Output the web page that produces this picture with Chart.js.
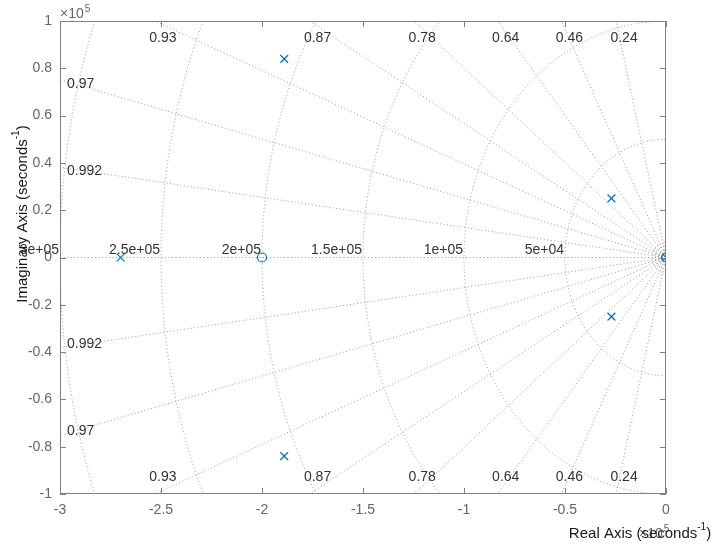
<!DOCTYPE html>
<html lang="en">
<head>
  <meta charset="UTF-8">
  <title>Pole-Zero Map</title>
  <style>
    body { margin: 0; background: #fff; }
  </style>
</head>
<body>
  <canvas id="pzChart" width="723" height="550"></canvas>
  <script src="https://cdn.jsdelivr.net/npm/chart.js"></script>
  <script>
    // poles (x) and zeros (o), in seconds^-1
    const poleRe = [-2.7e5, -1.89e5, -1.89e5, -0.27e5, -0.27e5, 0]
    const poleIm = [0, 0.84e5, -0.84e5, 0.25e5, -0.25e5, 0]
    const zeroRe = [-2.0e5, 0]
    const zeroIm = [0, 0]

    // sgrid: damping ratios and natural frequencies
    const zetas = [0.24, 0.46, 0.64, 0.78, 0.87, 0.93, 0.97, 0.992]
    const wnRings = [5e4, 1e5, 1.5e5, 2e5, 2.5e5, 3e5]
    const wnLabels = ['5e+04', '1e+05', '1.5e+05', '2e+05', '2.5e+05', '3e+05']
    const wnSmall = [2e3, 3.5e3, 5e3, 6.5e3]

    const xTicks = [-3, -2.5, -2, -1.5, -1, -0.5, 0]
    const yTicks = [-1, -0.8, -0.6, -0.4, -0.2, 0, 0.2, 0.4, 0.6, 0.8, 1]

    const blue = '#0072BD'
    const gridCol = 'rgba(110,110,110,0.7)'
    const tickCol = '#666666'
    const font = '"Liberation Sans", Arial, sans-serif'

    const sgrid = {
      id: 'sgrid',
      beforeDatasetsDraw(chart) {
        const { ctx, chartArea: a, scales: { x, y } } = chart
        const ox = x.getPixelForValue(0), oy = y.getPixelForValue(0)
        const sx = x.getPixelForValue(1e5) - x.getPixelForValue(0)
        const sy = y.getPixelForValue(0) - y.getPixelForValue(1e5)
        ctx.save()
        ctx.beginPath()
        ctx.rect(a.left, a.top, a.right - a.left, a.bottom - a.top)
        ctx.clip()
        ctx.strokeStyle = gridCol
        ctx.lineWidth = 1
        ctx.setLineDash([1, 2.5])

        // real axis
        ctx.beginPath()
        ctx.moveTo(a.left, oy); ctx.lineTo(a.right, oy)
        ctx.stroke()

        // frequency rings
        wnRings.concat(wnSmall).forEach(wn => {
          ctx.beginPath()
          ctx.ellipse(ox, oy, wn / 1e5 * sx, wn / 1e5 * sy, 0, Math.PI / 2, Math.PI * 3 / 2)
          ctx.stroke()
        })

        // damping lines
        zetas.forEach(z => {
          const th = Math.acos(z)
          const len = 1e6
          ctx.beginPath()
          ctx.moveTo(ox, oy)
          ctx.lineTo(x.getPixelForValue(-len * Math.cos(th)), y.getPixelForValue(len * Math.sin(th)))
          ctx.moveTo(ox, oy)
          ctx.lineTo(x.getPixelForValue(-len * Math.cos(th)), y.getPixelForValue(-len * Math.sin(th)))
          ctx.stroke()
        })
        ctx.restore()

        // labels
        ctx.save()
        ctx.fillStyle = '#333333'
        ctx.font = '14px ' + font
        ctx.textBaseline = 'middle'
        const xmin = x.min, ymax = y.max
        zetas.forEach(z => {
          const t = Math.sqrt(1 - z * z) / z
          const xTop = -ymax / t
          if (xTop >= xmin) {
            const px = x.getPixelForValue(xTop) + 8
            ctx.textAlign = 'center'
            ctx.fillText(String(z), px, a.top + 17)
            ctx.fillText(String(z), px, a.bottom - 17)
          } else {
            const yl = -xmin * t
            ctx.textAlign = 'left'
            ctx.fillText(String(z), a.left + 7, y.getPixelForValue(yl) + 4)
            ctx.fillText(String(z), a.left + 7, y.getPixelForValue(-yl) - 4)
          }
        })
        ctx.textAlign = 'right'
        ctx.textBaseline = 'alphabetic'
        wnRings.forEach((wn, i) => {
          ctx.fillText(wnLabels[i], x.getPixelForValue(-wn) - 1, oy - 4)
        })
        ctx.restore()
      },
      afterDraw(chart) {
        const { ctx, chartArea: a, scales: { x, y } } = chart
        ctx.save()
        ctx.strokeStyle = '#808080'
        ctx.lineWidth = 1
        ctx.strokeRect(a.left + 0.5, a.top + 0.5, a.right - a.left - 1, a.bottom - a.top - 1)
        ctx.beginPath()
        xTicks.forEach(v => {
          const px = Math.round(x.getPixelForValue(v * 1e5)) + 0.5
          ctx.moveTo(px, a.bottom); ctx.lineTo(px, a.bottom - 6)
          ctx.moveTo(px, a.top); ctx.lineTo(px, a.top + 6)
        })
        yTicks.forEach(v => {
          const py = Math.round(y.getPixelForValue(v * 1e5)) + 0.5
          ctx.moveTo(a.left, py); ctx.lineTo(a.left + 6, py)
          ctx.moveTo(a.right, py); ctx.lineTo(a.right - 6, py)
        })
        ctx.stroke()

        // exponent labels
        ctx.fillStyle = tickCol
        ctx.textBaseline = 'alphabetic'
        ctx.textAlign = 'left'
        ctx.font = '14px ' + font
        ctx.fillText('\u00d710', a.left, a.top - 3)
        let w = ctx.measureText('\u00d710').width
        ctx.font = '10px ' + font
        ctx.fillText('5', a.left + w + 1, a.top - 9)
        ctx.font = '14px ' + font
        ctx.fillText('\u00d710', a.right - 27, a.bottom + 44)
        ctx.font = '10px ' + font
        ctx.fillText('5', a.right - 27 + w + 1, a.bottom + 38)

        // axis titles
        ctx.fillStyle = '#1a1a1a'
        const drawTitle = (txt, cx, cy) => {
          ctx.font = '15px ' + font
          const w1 = ctx.measureText(txt).width
          ctx.font = '10px ' + font
          const w2 = ctx.measureText('-1').width
          ctx.font = '15px ' + font
          const w3 = ctx.measureText(')').width
          const total = w1 + w2 + w3
          let sx0 = cx - total / 2
          ctx.textAlign = 'left'
          ctx.fillText(txt, sx0, cy + 5)
          ctx.font = '10px ' + font
          ctx.fillText('-1', sx0 + w1, cy - 3)
          ctx.font = '15px ' + font
          ctx.fillText(')', sx0 + w1 + w2, cy + 5)
        }
        drawTitle('Real Axis (seconds', 640, a.bottom + 39)
        ctx.translate(22, 214)
        ctx.rotate(-Math.PI / 2)
        drawTitle('Imaginary Axis (seconds', 0, 0)
        ctx.restore()
      }
    }

    const ctx = document.getElementById('pzChart')

    new Chart(ctx, {
      type: 'scatter',
      data: {
        datasets: [
          {
            label: 'Poles',
            data: poleRe.map((re, i) => ({ x: re, y: poleIm[i] })),
            pointStyle: 'crossRot',
            pointRadius: 5.5,
            borderColor: blue,
            borderWidth: 1.2,
            backgroundColor: blue
          },
          {
            label: 'Zeros',
            data: zeroRe.map((re, i) => ({ x: re, y: zeroIm[i] })),
            pointStyle: 'circle',
            pointRadius: 4.5,
            borderColor: blue,
            borderWidth: 1.2,
            backgroundColor: 'rgba(0,0,0,0)'
          }
        ]
      },
      options: {
        responsive: false,
        animation: false,
        layout: { padding: { top: 21, right: 57, left: 0, bottom: 0 } },
        plugins: {
          legend: { display: false },
          tooltip: { enabled: false }
        },
        scales: {
          x: {
            type: 'linear',
            min: -3e5,
            max: 0,
            afterFit: s => { s.height = 56 },
            afterBuildTicks: s => { s.ticks = xTicks.map(v => ({ value: v * 1e5 })) },
            grid: { display: false, drawTicks: false },
            border: { display: false },
            ticks: {
              padding: 8,
              color: tickCol,
              font: { family: font, size: 14 },
              callback: v => String(Number((v / 1e5).toFixed(1)))
            }
          },
          y: {
            type: 'linear',
            min: -1e5,
            max: 1e5,
            afterFit: s => { s.width = 60 },
            afterBuildTicks: s => { s.ticks = yTicks.map(v => ({ value: v * 1e5 })) },
            grid: { display: false, drawTicks: false },
            border: { display: false },
            ticks: {
              padding: 8,
              color: tickCol,
              font: { family: font, size: 14 },
              callback: v => String(Number((v / 1e5).toFixed(1)))
            }
          }
        }
      },
      plugins: [sgrid]
    })
  </script>
</body>
</html>
